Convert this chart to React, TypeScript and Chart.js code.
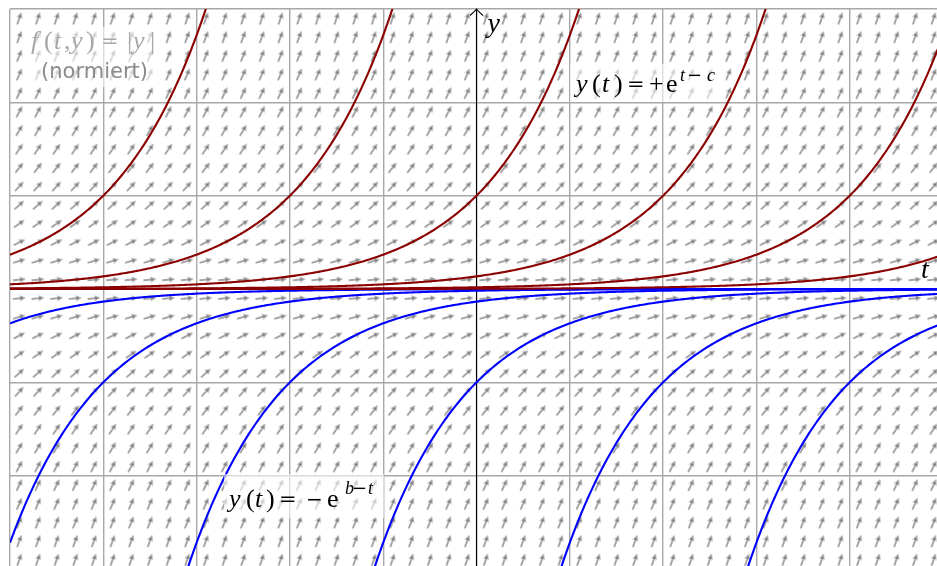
import { useEffect, useRef } from "react";
import { Chart, registerables } from "chart.js";

Chart.register(...registerables);

// axis ranges / grid ticks
const tRange = [-5, 5];
const yRange = [-3, 3];

// parameters of the drawn solution curves
const redShifts = [-4, -2, 0, 2, 4, 6]; // y(t) = +e^(t-c)
const blueShifts = [-6, -4, -2, 0, 2, 4]; // y(t) = -e^(b-t)

// positions of the direction-field arrows
const arrowT = [
  -4.9, -4.7, -4.5, -4.3, -4.1, -3.9, -3.7, -3.5, -3.3, -3.1, -2.9, -2.7, -2.5, -2.3, -2.1, -1.9, -1.7,
  -1.5, -1.3, -1.1, -0.9, -0.7, -0.5, -0.3, -0.1, 0.1, 0.3, 0.5, 0.7, 0.9, 1.1, 1.3, 1.5, 1.7, 1.9, 2.1,
  2.3, 2.5, 2.7, 2.9, 3.1, 3.3, 3.5, 3.7, 3.9, 4.1, 4.3, 4.5, 4.7, 4.9,
];
const arrowY = [
  -2.9, -2.7, -2.5, -2.3, -2.1, -1.9, -1.7, -1.5, -1.3, -1.1, -0.9, -0.7, -0.5, -0.3, -0.1, 0.1, 0.3, 0.5,
  0.7, 0.9, 1.1, 1.3, 1.5, 1.7, 1.9, 2.1, 2.3, 2.5, 2.7, 2.9,
];

const RED = "#8b0000";
const BLUE = "#0000ff";
const SERIF = '"Liberation Serif", "Times New Roman", serif';
const IT = (px: number) => `italic ${px}px ${SERIF}`;
const RM = (px: number) => `${px}px ${SERIF}`;
const DV = (px: number) => `${px}px "DejaVu Serif", serif`;

function slope(y: number) {
  return Math.abs(y);
}

function curve(fn: (t: number) => number) {
  const pts: { x: number; y: number }[] = [];
  const n = 500;
  for (let i = 0; i <= n; i++) {
    const t = tRange[0] + ((tRange[1] - tRange[0]) * i) / n;
    const y = fn(t);
    if (Math.abs(y) <= 4) pts.push({ x: t, y });
  }
  return pts;
}

function makeArrow() {
  const c = document.createElement("canvas");
  c.width = 16;
  c.height = 16;
  const g = c.getContext("2d")!;
  const cy = 8;
  g.beginPath();
  g.moveTo(14.5, cy);
  g.lineTo(8.3, cy - 2.9);
  g.lineTo(9.3, cy);
  g.lineTo(8.3, cy + 2.9);
  g.closePath();
  g.fillStyle = "#a4a4a4";
  g.fill();
  g.beginPath();
  g.moveTo(1.5, cy);
  g.lineTo(11, cy);
  g.strokeStyle = "#5e5e5e";
  g.lineWidth = 1.1;
  g.stroke();
  return c;
}

type Glyph = { s: string; f: string; x: number; y: number };
function drawGlyphs(ctx: CanvasRenderingContext2D, glyphs: Glyph[]) {
  ctx.textAlign = "left";
  ctx.textBaseline = "alphabetic";
  for (const g of glyphs) {
    ctx.font = g.f;
    ctx.fillText(g.s, g.x, g.y);
  }
}

const overlayPlugin = {
  id: "overlay",
  afterDatasetDraw(chart: any, args: any) {
    // axes are drawn just after the direction field, below the curves
    if (args.index !== chart.data.datasets.length - 1) return;
    const ctx: CanvasRenderingContext2D = chart.ctx;
    const xs = chart.scales.x;
    const ys = chart.scales.y;
    const area = chart.chartArea;
    const x0 = xs.getPixelForValue(0);
    const y0 = ys.getPixelForValue(0);
    const yTop = ys.getPixelForValue(yRange[1]);
    ctx.save();
    ctx.strokeStyle = "#000";
    ctx.lineWidth = 1.1;
    ctx.beginPath();
    ctx.moveTo(area.left, y0);
    ctx.lineTo(area.right, y0);
    ctx.moveTo(x0, area.bottom);
    ctx.lineTo(x0, yTop);
    ctx.stroke();
    ctx.beginPath();
    ctx.moveTo(x0 - 6.5, yTop + 6.5);
    ctx.quadraticCurveTo(x0 - 1.5, yTop + 2, x0, yTop);
    ctx.quadraticCurveTo(x0 + 1.5, yTop + 2, x0 + 6.5, yTop + 6.5);
    ctx.stroke();
    ctx.restore();
  },
  afterDatasetsDraw(chart: any) {
    const ctx: CanvasRenderingContext2D = chart.ctx;
    const xs = chart.scales.x;
    const x0 = xs.getPixelForValue(0);
    ctx.save();
    ctx.fillStyle = "rgba(255,255,255,0.6)";
    ctx.fillRect(24, 27, 138, 60);
    ctx.fillRect(570, 64, 156, 38);
    ctx.fillRect(224, 474, 160, 44);

    ctx.fillStyle = "#000";
    drawGlyphs(ctx, [
      { s: "y", f: IT(28), x: x0 + 11, y: 32 },
      { s: "t", f: IT(28), x: 921, y: 278 },
    ]);

    ctx.fillStyle = "#a8a8a8";
    const F = 26;
    const bf = 49;
    drawGlyphs(ctx, [
      { s: "f", f: IT(F), x: 31, y: bf },
      { s: "(", f: RM(F), x: 44, y: bf },
      { s: "t", f: IT(F), x: 54, y: bf },
      { s: ",", f: RM(F), x: 64, y: bf },
      { s: "y", f: IT(F), x: 71, y: bf },
      { s: ")", f: RM(F), x: 86, y: bf },
      { s: "=", f: DV(21), x: 101, y: bf - 1 },
      { s: "|", f: RM(F), x: 127, y: bf },
      { s: "y", f: IT(F), x: 133, y: bf },
      { s: "|", f: RM(F), x: 150, y: bf },
    ]);
    ctx.fillStyle = "#8a8a8a";
    ctx.font = '21px "DejaVu Sans", "Liberation Sans", sans-serif';
    ctx.textAlign = "center";
    ctx.fillText("(normiert)", 94.5, 78);

    ctx.fillStyle = "#000";
    const M = 26;
    const S = 18;
    const b3 = 92;
    const s3 = b3 - 11;
    drawGlyphs(ctx, [
      { s: "y", f: IT(M), x: 576, y: b3 },
      { s: "(", f: RM(M), x: 592, y: b3 },
      { s: "t", f: IT(M), x: 602, y: b3 },
      { s: ")", f: RM(M), x: 614, y: b3 },
      { s: "=", f: DV(21), x: 627, y: b3 - 1 },
      { s: "+", f: RM(M), x: 649, y: b3 },
      { s: "e", f: RM(M), x: 666, y: b3 },
      { s: "t", f: IT(S), x: 680, y: s3 },
      { s: "−", f: DV(18), x: 687, y: s3 },
      { s: "c", f: IT(S), x: 707, y: s3 },
    ]);
    const b4 = 507;
    const s4 = b4 - 13;
    drawGlyphs(ctx, [
      { s: "y", f: IT(M), x: 229, y: b4 },
      { s: "(", f: RM(M), x: 246, y: b4 },
      { s: "t", f: IT(M), x: 255, y: b4 },
      { s: ")", f: RM(M), x: 266, y: b4 },
      { s: "=", f: DV(21), x: 279, y: b4 - 1 },
      { s: "−", f: DV(20), x: 306, y: b4 - 1 },
      { s: "e", f: RM(M), x: 327, y: b4 },
      { s: "b", f: IT(S), x: 345, y: s4 },
      { s: "−", f: DV(18), x: 352, y: s4 },
      { s: "t", f: IT(S), x: 368, y: s4 },
    ]);
    ctx.restore();
  },
};

export default function App() {
  const ref = useRef<HTMLCanvasElement | null>(null);
  useEffect(() => {
    if (!ref.current) return;
    const arrowImg = makeArrow();
    const arrowData: { x: number; y: number }[] = [];
    for (const t of arrowT) for (const y of arrowY) arrowData.push({ x: t, y });

    const datasets: any[] = [];
    for (const c of redShifts) {
      datasets.push({
        data: curve((t) => Math.exp(t - c)),
        showLine: true,
        borderColor: RED,
        borderWidth: 2.1,
        pointRadius: 0,
        order: 1,
      });
    }
    for (const b of blueShifts) {
      datasets.push({
        data: curve((t) => -Math.exp(b - t)),
        showLine: true,
        borderColor: BLUE,
        borderWidth: 2.1,
        pointRadius: 0,
        order: 1,
      });
    }
    datasets.push({
      data: arrowData,
      showLine: false,
      pointStyle: arrowImg,
      pointRadius: 3,
      pointHoverRadius: 3,
      rotation: (ctx: any) => {
        const raw = ctx.raw;
        if (!raw) return 0;
        const ch = ctx.chart;
        const sx = Math.abs(ch.scales.x.getPixelForValue(1) - ch.scales.x.getPixelForValue(0));
        const sy = Math.abs(ch.scales.y.getPixelForValue(1) - ch.scales.y.getPixelForValue(0));
        return (-Math.atan2(slope(raw.y) * sy, sx) * 180) / Math.PI;
      },
      order: 5,
    });

    const chart = new Chart(ref.current, {
      type: "scatter",
      data: { datasets },
      options: {
        animation: false,
        responsive: false,
        events: [],
        layout: { autoPadding: false, padding: { left: 10, top: 9, right: 0, bottom: 0 } },
        plugins: { legend: { display: false }, tooltip: { enabled: false } },
        scales: {
          x: {
            type: "linear",
            min: tRange[0],
            max: tRange[1],
            ticks: { display: false, stepSize: 1 },
            grid: { color: "#a8a8a8", lineWidth: 1.4, drawTicks: false },
            border: { display: false },
          },
          y: {
            type: "linear",
            min: yRange[0],
            max: yRange[1],
            ticks: { display: false, stepSize: 1 },
            grid: { color: "#a8a8a8", lineWidth: 1.4, drawTicks: false },
            border: { display: false },
          },
        },
      },
      plugins: [overlayPlugin],
    });
    return () => chart.destroy();
  }, []);

  return (
    <div
      style={{
        position: "fixed",
        left: 0,
        top: 0,
        width: 937,
        height: 566,
        overflow: "hidden",
        background: "#fff",
      }}
    >
      <canvas ref={ref} width={943} height={569} style={{ display: "block", width: 943, height: 569 }} />
    </div>
  );
}
